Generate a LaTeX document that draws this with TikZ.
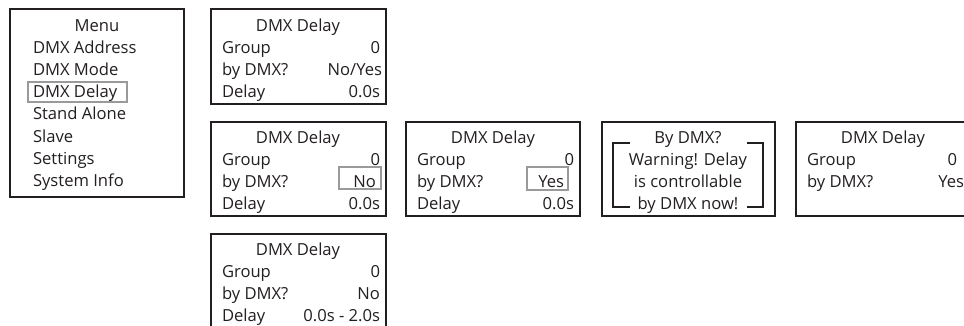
\documentclass[tikz,border=0pt]{standalone}
\usepackage{fontspec}
\setmainfont{Open Sans}
\definecolor{dk}{HTML}{231F20}
\definecolor{hlg}{HTML}{9A9A9A}
\begin{document}
\begin{tikzpicture}[x=1pt,y=-1pt,
  frame/.style={draw=dk, line width=2.6pt, rectangle, inner sep=0pt, outer sep=0pt},
  hl/.style={draw=hlg, line width=2pt, rectangle, inner sep=0pt, outer sep=0pt},
  txt/.style={inner sep=0pt, outer sep=0pt, text=dk, font=\fontsize{16.6}{19}\selectfont},
  lab/.style={txt, anchor=base west},
  val/.style={txt, anchor=base east},
  ttl/.style={txt, anchor=base},
  brk/.style={draw=dk, line width=2.4pt}
]
\useasboundingbox (0,0) rectangle (964,325);
\clip (0,0) rectangle (964,325);
\fill[white] (0,0) rectangle (964,325);

% boxes
\node[frame, minimum width=174pt, minimum height=188pt] (menu) at (97,103) {};
\node[frame, minimum width=175pt, minimum height=95pt] (b1) at (298.5,56.5) {};
\node[frame, minimum width=175pt, minimum height=94pt] (b2) at (298.5,169) {};
\node[frame, minimum width=174pt, minimum height=94pt] (b3) at (493,169) {};
\node[frame, minimum width=173pt, minimum height=94pt] (b4) at (688.5,169) {};
\node[frame, minimum width=174pt, minimum height=94pt] (b5) at (883,169) {};
\node[frame, minimum width=175pt, minimum height=106pt] (b6) at (298.5,287) {};

% highlights
\node[hl, minimum width=99pt, minimum height=20pt] (hmenu) at (77.5,92) {};
\node[hl, minimum width=42pt, minimum height=22pt] (hno) at (360,178) {};
\node[hl, minimum width=41pt, minimum height=23pt] (hyes) at (547.5,178.5) {};

% menu text
\node[ttl] (m0) at (97,31) {Menu};
\node[lab] (m1) at (33,53) {DMX Address};
\node[lab] (m2) at (33,75) {DMX Mode};
\node[lab] (m3) at (33,97) {DMX Delay};
\node[lab] (m4) at (33,119) {Stand Alone};
\node[lab] (m5) at (33,142) {Slave};
\node[lab] (m6) at (33,164) {Settings};
\node[lab] (m7) at (33,186) {System Info};

% box 1
\node[ttl] (t1) at (298,31) {DMX Delay};
\node[lab] (g1) at (222,53) {Group};
\node[val] (gv1) at (380,53) {0};
\node[lab] (d1) at (222,75) {by DMX?};
\node[val] (dv1) at (382,75) {No/Yes};
\node[lab] (l1) at (222,97) {Delay};
\node[val] (lv1) at (380,97) {0.0s};

% box 2
\node[ttl] (t2) at (298,143) {DMX Delay};
\node[lab] (g2) at (222,165) {Group};
\node[val] (gv2) at (380,165) {0};
\node[lab] (d2) at (222,187) {by DMX?};
\node[val] (dv2) at (376,187) {No};
\node[lab] (l2) at (222,209) {Delay};
\node[val] (lv2) at (380,209) {0.0s};

% box 3
\node[ttl] (t3) at (493,143) {DMX Delay};
\node[lab] (g3) at (417,165) {Group};
\node[val] (gv3) at (574,165) {0};
\node[lab] (d3) at (417,187) {by DMX?};
\node[val] (dv3) at (564,187) {Yes};
\node[lab] (l3) at (417,209) {Delay};
\node[val] (lv3) at (574,209) {0.0s};

% box 4
\node[ttl] (t4) at (688,143) {By DMX?};
\node[ttl] (w1) at (688,165) {Warning! Delay};
\node[ttl] (w2) at (688,187) {is controllable};
\node[ttl] (w3) at (688,209) {by DMX now!};
\coordinate (lb1) at (630,143);
\coordinate (lb2) at (613,143);
\coordinate (lb3) at (613,207);
\coordinate (lb4) at (630,207);
\coordinate (rb1) at (747,143);
\coordinate (rb2) at (763,143);
\coordinate (rb3) at (763,207);
\coordinate (rb4) at (747,207);
\draw[brk] (lb1) -- (lb2) -- (lb3) -- (lb4);
\draw[brk] (rb1) -- (rb2) -- (rb3) -- (rb4);

% box 5
\node[ttl] (t5) at (883,143) {DMX Delay};
\node[lab] (g5) at (807,165) {Group};
\node[val] (gv5) at (957,165) {0};
\node[lab] (d5) at (807,187) {by DMX?};
\node[val] (dv5) at (964,187) {Yes};

% box 6
\node[ttl] (t6) at (298,255) {DMX Delay};
\node[lab] (g6) at (222,277) {Group};
\node[val] (gv6) at (380,277) {0};
\node[lab] (d6) at (222,299) {by DMX?};
\node[val] (dv6) at (380,299) {No};
\node[lab] (l6) at (222,321) {Delay};
\node[val] (lv6) at (380,321) {0.0s - 2.0s};
\end{tikzpicture}
\end{document}
